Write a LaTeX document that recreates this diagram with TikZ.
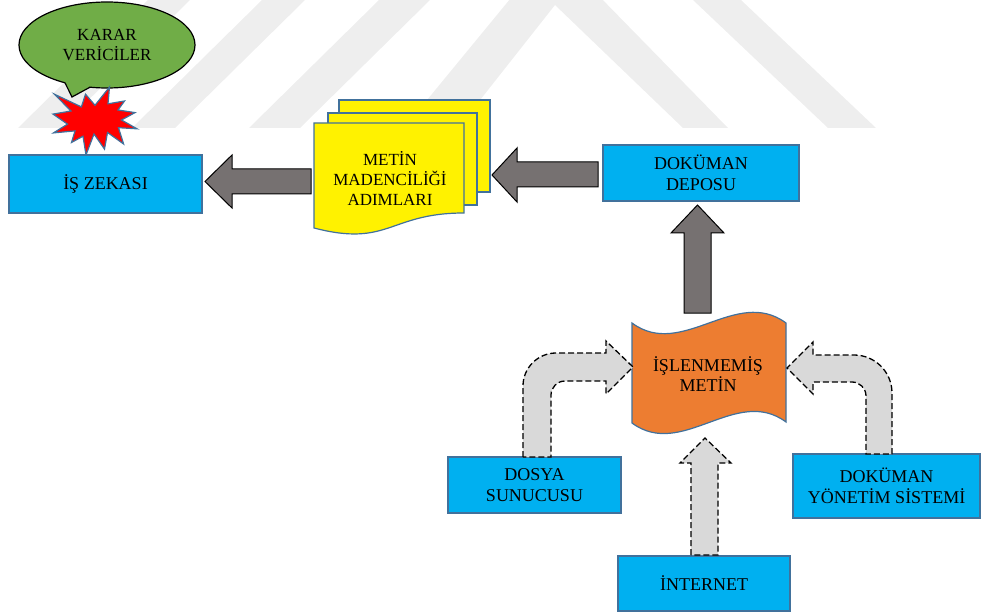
\documentclass[tikz,border=0pt]{standalone}
\usepackage{fontspec}
\setmainfont{Liberation Serif}
\usetikzlibrary{shapes.geometric}
\definecolor{boxblue}{HTML}{00B0F0}
\definecolor{edgeblue}{HTML}{41719C}
\definecolor{callgreen}{HTML}{70AD47}
\definecolor{arrgray}{HTML}{767171}
\definecolor{dashgray}{HTML}{D9D9D9}
\definecolor{wavorange}{HTML}{ED7D31}
\definecolor{wmark}{HTML}{EEEEEE}
\begin{document}
\begin{tikzpicture}[x=1bp,y=-1bp,
  txt/.style={font=\fontsize{18bp}{20.5bp}\selectfont, align=center, inner sep=0pt},
  smalltxt/.style={font=\fontsize{17bp}{19.8bp}\selectfont, align=center, inner sep=0pt},
  box/.style={txt, draw=edgeblue, fill=boxblue, line width=1.2bp},
  shapeline/.style={draw=edgeblue, line width=1.2bp},
  blockarrow/.style={draw=black, fill=arrgray, line width=1bp, line join=miter},
  dasharrow/.style={draw=black, fill=dashgray, line width=1.3bp, dash pattern=on 6bp off 3bp}]
\useasboundingbox (0,0) rectangle (981,612);
% watermark
\fill[wmark] (148,0) -- (190,0) -- (60,128) -- (18,128) -- cycle;
\fill[wmark] (262,0) -- (305,0) -- (175,128) -- (132,128) -- cycle;
\fill[wmark] (379,0) -- (430,0) -- (300,128) -- (249,128) -- cycle;
\fill[wmark] (404,128) -- (552,-52) -- (728,128) -- (683,128) -- (555,5) -- (458,128) -- cycle;
\fill[wmark] (693,0) -- (741,0) -- (876,128) -- (828,128) -- cycle;
% callout
\node[ellipse, draw=black, fill=callgreen, line width=1.2bp, minimum width=176bp, minimum height=86bp, smalltxt] (karar) at (107,45) {KARAR\\VERİCİLER};
\fill[callgreen] (65,82.8) -- (72,97) -- (90,87.2) -- (85,80) -- (70,78) -- cycle;
\draw[black, line width=1.2bp, line join=miter] (65,82.8) -- (72,97) -- (90,87.2);
% starburst
\draw[fill=red, shapeline, line join=miter] (95,105.3) -- (109.5,87) -- (108,103.8) -- (124.5,101) -- (118,110) -- (135,112.6) -- (121.5,120) -- (137,128.8) -- (118.5,127.7) -- (123.6,144) -- (107.5,132.5) -- (104.5,149.1) -- (94,134) -- (86,155) -- (83,136.2) -- (71.5,142.5) -- (75,130.9) -- (53.5,132.9) -- (67.5,124.1) -- (53,114.1) -- (71,111) -- (54.4,94.2) -- (81.4,106.9) -- (85.5,94.2) -- cycle;
% boxes top row
\node[box, minimum width=193bp, minimum height=58bp] (isz) at (105.5,184) {İŞ ZEKASI};
\node[box, minimum width=196bp, minimum height=56bp] (depo) at (701,173) {DOKÜMAN\\DEPOSU};
% gray arrows
\draw[blockarrow] (311,169) -- (232,169) -- (232,155) -- (205,181.5) -- (232,208) -- (232,194) -- (311,194) -- cycle;
\draw[blockarrow] (598,162) -- (517,162) -- (517,148) -- (492,175) -- (517,202) -- (517,187) -- (598,187) -- cycle;
\draw[blockarrow] (684,313) -- (684,233) -- (671,233) -- (697.5,205) -- (724,233) -- (711,233) -- (711,313) -- cycle;
% multi document
\draw[fill=yellow, shapeline] (339,100) rectangle (490,192);
\draw[fill=yellow, shapeline] (328,113) rectangle (477,205);
\draw[fill=yellow, shapeline] (314,123) -- (464,123) -- (464,213) .. controls (389,213) and (389,247.5) .. (314,228) -- cycle;
\node[smalltxt] (metin) at (390,178.5) {METİN\\MADENCİLİĞİ\\ADIMLARI};
% wave
\draw[fill=wavorange, shapeline] (632,323) .. controls (682,360) and (736,286) .. (786,323) -- (786,422) .. controls (736,385) and (682,460) .. (632,423) -- cycle;
\node[txt] (ham) at (708,374) {İŞLENMEMİŞ\\METİN};
% bottom boxes
\node[box, minimum width=173bp, minimum height=56bp] (dosya) at (534.5,485) {DOSYA\\SUNUCUSU};
\node[box, minimum width=187bp, minimum height=64bp] (dys) at (886.5,486) {DOKÜMAN\\YÖNETİM SİSTEMİ};
\node[box, minimum width=172bp, minimum height=55bp] (inet) at (704,583.5) {İNTERNET};
% dashed arrows
\draw[dasharrow] (523,457) -- (523,386) .. controls (523,367.8) and (537.8,353) .. (556,353) -- (606,353) -- (606,341) -- (633,367) -- (606,394) -- (606,381) -- (565,381) .. controls (557.3,381) and (551,387.3) .. (551,395) -- (551,457) -- cycle;
\draw[dasharrow] (892,454) -- (892,393) .. controls (892,372) and (875,355) .. (854,355) -- (813,355) -- (813,342) -- (787,368) -- (813,394) -- (813,382) -- (852,382) .. controls (859.7,382) and (866,388.3) .. (866,396) -- (866,454) -- cycle;
\draw[dasharrow] (691,555) -- (691,463) -- (680,463) -- (705,438) -- (731,463) -- (718,463) -- (718,555) -- cycle;
\end{tikzpicture}
\end{document}
